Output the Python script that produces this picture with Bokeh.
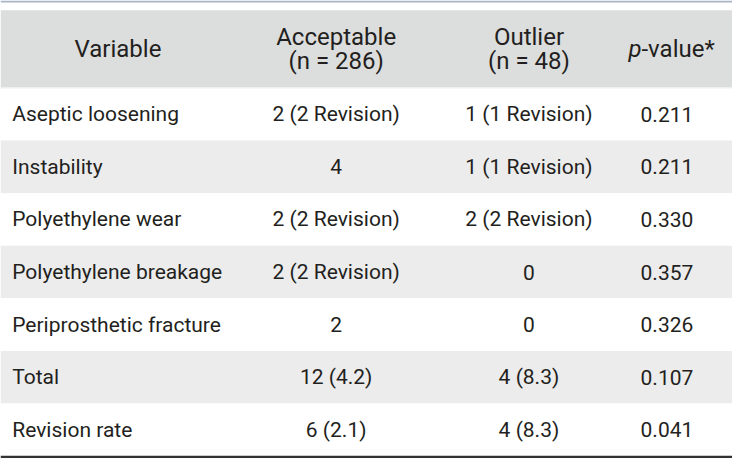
from bokeh.plotting import figure
from bokeh.models import ColumnDataSource, Range1d
from bokeh.core.properties import value
from bokeh.embed import file_html
from bokeh.resources import INLINE

# ---- data ----
variables = ["Aseptic loosening", "Instability", "Polyethylene wear",
             "Polyethylene breakage", "Periprosthetic fracture", "Total", "Revision rate"]
acceptable = ["2 (2 Revision)", "4", "2 (2 Revision)", "2 (2 Revision)", "2", "12 (4.2)", "6 (2.1)"]
outlier = ["1 (1 Revision)", "1 (1 Revision)", "2 (2 Revision)", "0", "0", "4 (8.3)", "4 (8.3)"]
pvalues = ["0.211", "0.211", "0.330", "0.357", "0.326", "0.107", "0.041"]
header_col1 = "Variable"
header_acc = ["Acceptable", "(n = 286)"]
header_out = ["Outlier", "(n = 48)"]
header_p_italic = "p"
header_p_rest = "-value*"

# ---- layout (reference pixel space) ----
W, H = 748, 474
top_line_y = 1
head_top, head_bot = 10, 90.5
table_bot = 471.5
n = len(variables)
row_h = (table_bot - head_bot) / n
col_x = [12, 343, 540, 681]

DATA_FONT = "Roboto"
HEAD_FONT = "Roboto"
TXT = "#231f20"
data_size = "21px"
head_size = "24px"

p = figure(width=732, height=458, x_range=Range1d(0, W), y_range=Range1d(H, 0),
           output_backend="svg", toolbar_location=None,
           x_axis_type=None, y_axis_type=None, min_border=0)
p.outline_line_color = None
p.xgrid.visible = False
p.ygrid.visible = False
p.background_fill_color = "white"
p.border_fill_color = "white"

# header band
p.quad(left=[0], right=[W], top=[head_top], bottom=[head_bot],
       fill_color="#dcdddd", line_color=None)
# top line
p.segment(x0=[0], x1=[W], y0=[top_line_y], y1=[top_line_y], line_color="#a9b4c6", line_width=2)

# row bands
tops = [head_bot + i * row_h for i in range(n)]
bots = [t + row_h for t in tops]
fills = ["#ffffff" if i % 2 == 0 else "#ececec" for i in range(n)]
p.quad(left=[0] * n, right=[W] * n, top=tops, bottom=bots, fill_color=fills, line_color=None)
# thin separator under header
p.segment(x0=[0], x1=[W], y0=[head_bot], y1=[head_bot], line_color="#f4f4f4", line_width=1.5)
# bottom line
p.segment(x0=[0], x1=[W], y0=[H - 1.5], y1=[H - 1.5], line_color="#333333", line_width=2.5)

# data text
ys = [t + row_h / 2 for t in tops]
src = ColumnDataSource(dict(y=ys, var=variables, acc=acceptable, out=outlier, pv=pvalues))
common = dict(source=src, text_font=value(DATA_FONT), text_font_size=data_size,
              text_color=TXT, text_baseline="middle")
p.text(x=col_x[0], y="y", text="var", text_align="left", **common)
p.text(x=col_x[1], y="y", text="acc", text_align="center", **common)
p.text(x=col_x[2], y="y", text="out", text_align="center", **common)
p.text(x=col_x[3], y="y", text="pv", text_align="center", **common)

# header text
hmid = (head_top + head_bot) / 2
hcommon = dict(text_font=value(HEAD_FONT), text_font_size=head_size, text_color=TXT,
               text_baseline="middle")
p.text(x=[120], y=[hmid], text=[header_col1], text_align="center", **hcommon)
p.text(x=[col_x[1]] * 2, y=[hmid - 12.5, hmid + 12.5], text=header_acc, text_align="center", **hcommon)
p.text(x=[col_x[2]] * 2, y=[hmid - 12.5, hmid + 12.5], text=header_out, text_align="center", **hcommon)
p.text(x=[655], y=[hmid], text=[header_p_italic], text_font_style="italic",
       text_align="right", **hcommon)
p.text(x=[655], y=[hmid], text=[header_p_rest], text_align="left", **hcommon)

open("out.html", "w").write(file_html(p, INLINE))
